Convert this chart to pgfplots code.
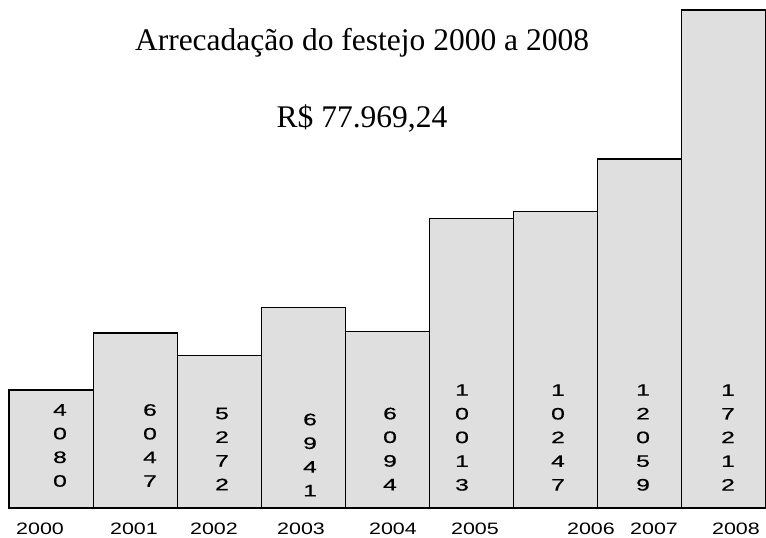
\documentclass[border=0pt]{standalone}
\usepackage{pgfplots}
\pgfplotsset{compat=1.18}
\usepackage{fontspec}
\setmainfont{Liberation Serif}
\newfontfamily\arialdig[FakeStretch=1.5,FakeBold=0.6]{Liberation Sans}
\newfontfamily\arialyr[FakeStretch=1.3]{Liberation Sans}
\tikzset{digits/.style={font=\arialdig\fontsize{16.5}{23.7}\selectfont, align=center, inner sep=0pt}}
\begin{document}
\begin{tikzpicture}[x=1pt,y=1pt]
\path[use as bounding box] (-9,-30) rectangle (757,508);
\begin{axis}[
  at={(0,0)}, anchor=south west,
  scale only axis, width=757pt, height=498pt,
  xmin=-0.5, xmax=8.5, ymin=0, ymax=17212,
  axis line style={draw=none},
  ytick=\empty,
  xtick={-0.131,0.986,1.937,2.972,4.065,5.040,6.419,7.169,8.143},
  xticklabels={2000,2001,2002,2003,2004,2005,2006,2007,2008},
  major tick length=0pt,
  xticklabel style={font=\arialyr\fontsize{16.5}{18}\selectfont, anchor=center, inner sep=0pt, yshift=-21pt},
  clip=false,
]
\addplot[ybar, bar width=1, fill=gray!25, draw=black, line width=1.2pt]
  coordinates {(0,4080) (1,6047) (2,5272) (3,6941) (4,6094) (5,10013) (6,10247) (7,12059) (8,17212)};
\node[digits] at (axis cs:0.106,2160) {4\\0\\8\\0};
\node[digits] at (axis cs:1.176,2160) {6\\0\\4\\7};
\node[digits] at (axis cs:2.032,2039) {5\\2\\7\\2};
\node[digits] at (axis cs:3.079,1832) {6\\9\\4\\1};
\node[digits] at (axis cs:4.030,2039) {6\\0\\9\\4};
\node[digits] at (axis cs:4.886,2437) {1\\0\\0\\1\\3};
\node[digits] at (axis cs:6.027,2437) {1\\0\\2\\4\\7};
\node[digits] at (axis cs:7.038,2437) {1\\2\\0\\5\\9};
\node[digits] at (axis cs:8.048,2437) {1\\7\\2\\1\\2};
\end{axis}
\node[font=\fontsize{31.5}{36}\selectfont] at (353,465) {Arrecadação do festejo 2000 a 2008};
\node[font=\fontsize{31.5}{36}\selectfont] at (353,389) {R\$ 77.969,24};
\end{tikzpicture}
\end{document}
